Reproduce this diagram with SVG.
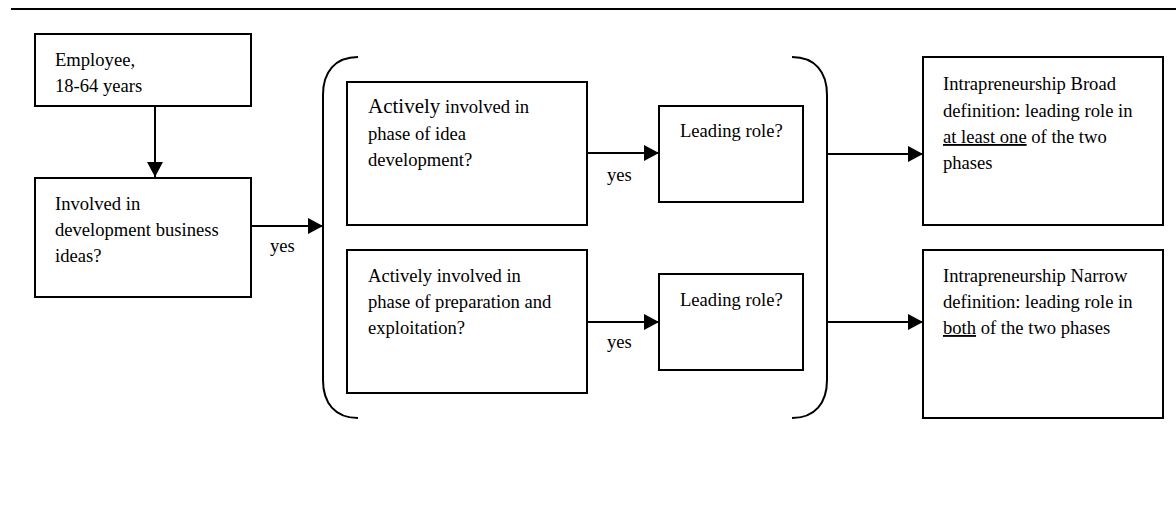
<svg xmlns="http://www.w3.org/2000/svg" width="1176" height="524" viewBox="0 0 1176 524">
<style>
.box{fill:#fff;stroke:#000;stroke-width:2}
.t{font-family:"Liberation Serif","Times New Roman",serif;font-size:18.6px;fill:#000}
.big{font-size:21px}
.c{fill:none;stroke:#000;stroke-width:2}
.u{text-decoration:underline}
</style>
<defs>
<marker id="ah" markerUnits="userSpaceOnUse" markerWidth="16" markerHeight="16" refX="15" refY="8" orient="auto">
<path d="M0,0 L15,8 L0,16 z" fill="#000"/>
</marker>
</defs>
<rect width="1176" height="524" fill="#fff"/>
<line x1="11" y1="9" x2="1176" y2="9" stroke="#000" stroke-width="2"/>

<g id="employee">
<rect class="box" x="35" y="34" width="216" height="72"/>
<text class="t" x="55" y="66">Employee,</text>
<text class="t" x="55" y="92">18-64 years</text>
</g>
<g id="involved">
<rect class="box" x="35" y="178" width="216" height="119"/>
<text class="t" x="55" y="210">Involved in</text>
<text class="t" x="55" y="236">development business</text>
<text class="t" x="55" y="262">ideas?</text>
</g>
<g id="bracket-left">
<path class="c" d="M358,57 C335,57 323,72 323,95 L323,380 C323,403 335,418 358,418"/>
</g>
<g id="bracket-right">
<path class="c" d="M792,57 C815,57 827,72 827,95 L827,380 C827,403 815,418 792,418"/>
</g>
<g id="idea-phase">
<rect class="box" x="347" y="82" width="240" height="143"/>
<text class="t" x="368" y="113"><tspan class="big">Actively</tspan> involved in</text>
<text class="t" x="368" y="140">phase of idea</text>
<text class="t" x="368" y="166">development?</text>
</g>
<g id="prep-phase">
<rect class="box" x="347" y="250" width="240" height="143"/>
<text class="t" x="368" y="282">Actively involved in</text>
<text class="t" x="368" y="308">phase of preparation and</text>
<text class="t" x="368" y="334">exploitation?</text>
</g>
<g id="leading1">
<rect class="box" x="659" y="106" width="144" height="96"/>
<text class="t" x="680" y="137">Leading role?</text>
</g>
<g id="leading2">
<rect class="box" x="659" y="274" width="144" height="96"/>
<text class="t" x="680" y="306">Leading role?</text>
</g>
<g id="broad">
<rect class="box" x="923" y="57" width="240" height="168"/>
<text class="t" x="943" y="90">Intrapreneurship Broad</text>
<text class="t" x="943" y="117">definition: leading role in</text>
<text class="t" x="943" y="143"><tspan class="u">at least one</tspan> of the two</text>
<text class="t" x="943" y="169">phases</text>
</g>
<g id="narrow">
<rect class="box" x="923" y="250" width="240" height="168"/>
<text class="t" x="943" y="282">Intrapreneurship Narrow</text>
<text class="t" x="943" y="308">definition: leading role in</text>
<text class="t" x="943" y="334"><tspan class="u">both</tspan> of the two phases</text>
</g>

<g id="connectors">
<line class="c" x1="155" y1="106" x2="155" y2="177" marker-end="url(#ah)"/>
<line class="c" x1="251" y1="226" x2="323" y2="226" marker-end="url(#ah)"/>
<text class="t" x="270" y="252">yes</text>
<line class="c" x1="587" y1="153" x2="659" y2="153" marker-end="url(#ah)"/>
<text class="t" x="607" y="181">yes</text>
<line class="c" x1="587" y1="322" x2="659" y2="322" marker-end="url(#ah)"/>
<text class="t" x="607" y="348">yes</text>
<line class="c" x1="827" y1="154" x2="923" y2="154" marker-end="url(#ah)"/>
<line class="c" x1="827" y1="322" x2="923" y2="322" marker-end="url(#ah)"/>
</g>
</svg>
